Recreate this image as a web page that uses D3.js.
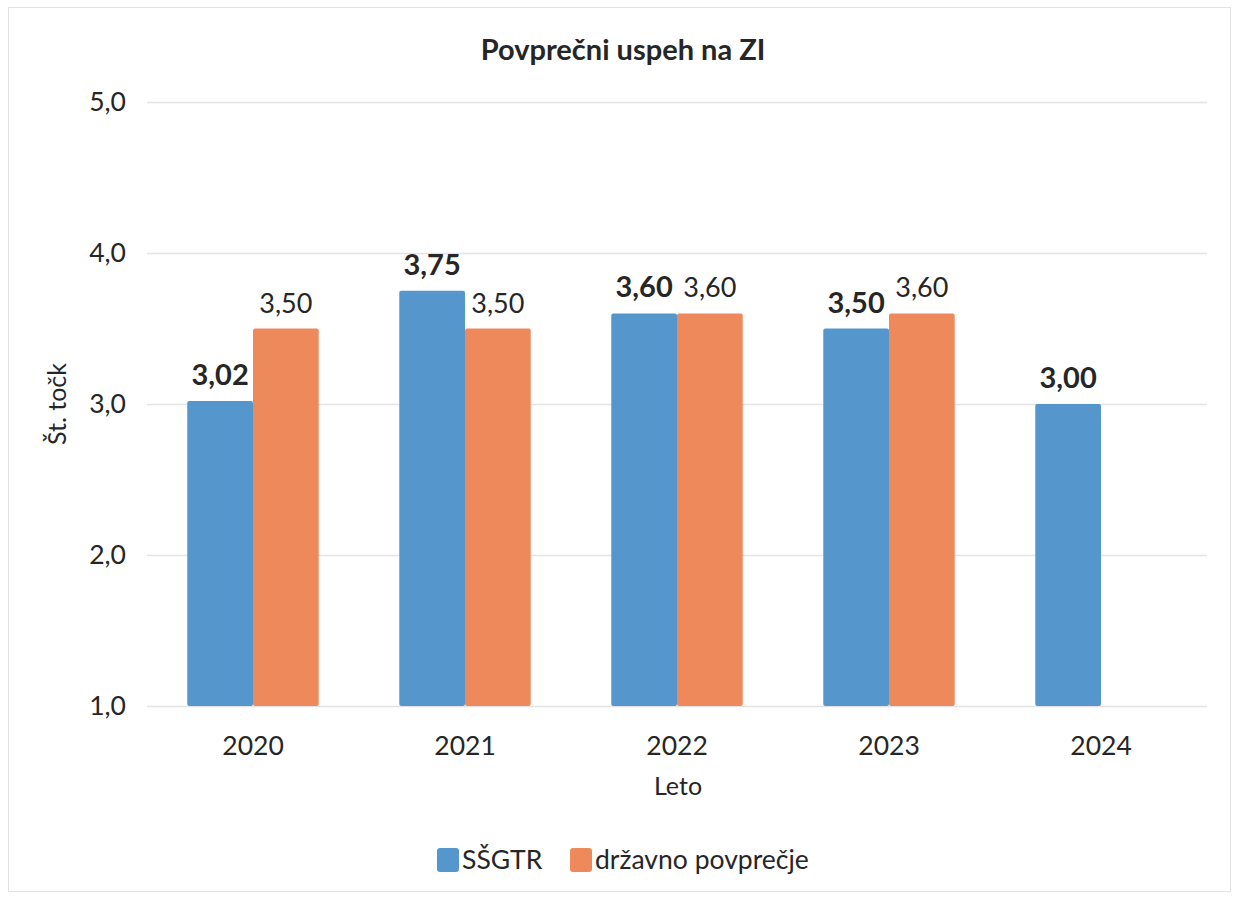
<!DOCTYPE html>
<html>
<head>
<meta charset="utf-8">
<script src="https://cdn.jsdelivr.net/npm/d3@7"></script>
<style>
  body { margin: 0; background: #fff; }
  text { font-family: Lato, "Open Sans", sans-serif; fill: #262626; }
</style>
</head>
<body>
<svg id="chart" width="1234" height="897"></svg>
<script>
var years   = ["2020", "2021", "2022", "2023", "2024"];
var series  = ["SŠGTR", "državno povprečje"];
var ssgtr   = [3.02, 3.75, 3.60, 3.50, 3.00];
var drzavno = [3.50, 3.50, 3.60, 3.60, null];
var yTicks  = [1, 2, 3, 4, 5];
var colors  = ["#5597cd", "#ee895b"];

var width  = 1234;
var height = 897;
var margin = {top: 102, right: 27, bottom: 191, left: 147};

var svg = d3.select("#chart");

// frame round the chart
svg.append("rect")
  .attr("x", 8.5).attr("y", 7.5)
  .attr("width", width - 12).attr("height", height - 13)
  .attr("fill", "none").attr("stroke", "#e2e2e2");

var x0 = d3.scaleBand().domain(years)
  .range([margin.left, width - margin.right])
  .paddingInner(0.38).paddingOuter(0.19);

var x1 = d3.scaleBand().domain(series).range([0, x0.bandwidth()]);

var y = d3.scaleLinear().domain([1, 5]).range([height - margin.bottom, margin.top]);

var comma = function (f) { return function (v) { return d3.format(f)(v).replace(".", ","); }; };

// grid
var yAxis = d3.axisLeft(y).tickValues(yTicks).tickFormat(comma(".1f"))
  .tickSize(-(width - margin.left - margin.right)).tickPadding(21);

var gy = svg.append("g").attr("transform", "translate(" + margin.left + ",0)").call(yAxis);
gy.select(".domain").remove();
gy.selectAll(".tick line").attr("stroke", "#e3e3e3").attr("stroke-width", 1.5);
gy.selectAll(".tick text").style("font-size", "26.5px").attr("fill", "#262626");

var xAxis = d3.axisBottom(x0).tickSize(0).tickPadding(30);
var gx = svg.append("g").attr("transform", "translate(0," + (height - margin.bottom) + ")").call(xAxis);
gx.select(".domain").remove();
gx.selectAll(".tick text").style("font-size", "26.5px").attr("fill", "#262626");

// bars
var rows = years.map(function (d, i) { return {year: d, values: [ssgtr[i], drzavno[i]]}; });

var groups = svg.selectAll(".grp").data(rows).enter().append("g")
  .attr("transform", function (d) { return "translate(" + x0(d.year) + ",0)"; });

var cells = groups.selectAll("g").data(function (d) {
    return d.values.map(function (v, j) { return {key: series[j], value: v, idx: j}; })
      .filter(function (c) { return c.value != null; });
  }).enter().append("g");

cells.append("rect")
  .attr("x", function (d) { return x1(d.key); })
  .attr("y", function (d) { return y(d.value); })
  .attr("width", x1.bandwidth())
  .attr("height", function (d) { return y(1) - y(d.value); })
  .attr("fill", function (d) { return colors[d.idx]; })
  .attr("rx", 2);

cells.append("text")
  .attr("x", function (d) { return x1(d.key) + x1.bandwidth() / 2; })
  .attr("y", function (d) { return y(d.value) - 16; })
  .attr("text-anchor", "middle")
  .style("font-size", function (d) { return d.idx === 0 ? "29px" : "27px"; })
  .style("font-weight", function (d) { return d.idx === 0 ? "bold" : "normal"; })
  .text(function (d) { return comma(".2f")(d.value); });

// titles
svg.append("text").attr("x", 623).attr("y", 60).attr("text-anchor", "middle")
  .style("font-size", "29px").style("font-weight", "bold").text("Povprečni uspeh na ZI");

svg.append("text").attr("transform", "translate(66,404) rotate(-90)").attr("text-anchor", "middle")
  .style("font-size", "25px").text("Št. točk");

svg.append("text").attr("x", 678).attr("y", 795).attr("text-anchor", "middle")
  .style("font-size", "25px").text("Leto");

// legend
var legendX = [437, 570];
var legend = svg.selectAll(".leg").data(series).enter().append("g")
  .attr("transform", function (d, i) { return "translate(" + legendX[i] + ",848)"; });

legend.append("rect").attr("width", 22).attr("height", 24).attr("rx", 3)
  .attr("fill", function (d, i) { return colors[i]; });

legend.append("text").attr("x", 25).attr("y", 21)
  .style("font-size", "26.5px").text(function (d) { return d; });
</script>
</body>
</html>
